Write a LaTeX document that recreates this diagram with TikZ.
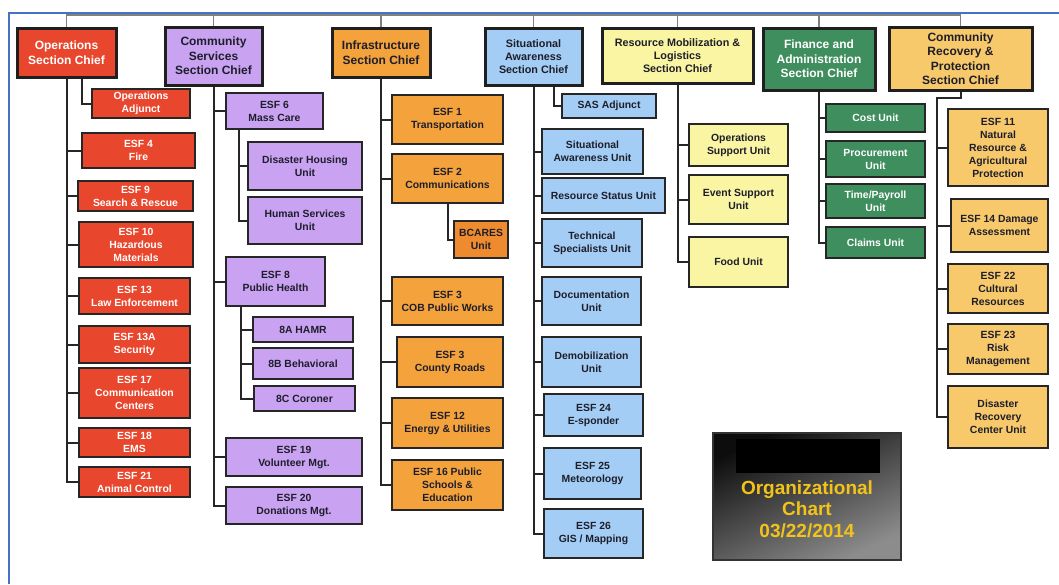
\documentclass[tikz,border=0pt]{standalone}
\usepackage{fontspec}
\setmainfont{Liberation Sans}
\usetikzlibrary{shadows,calc}

\definecolor{opsred}{HTML}{E8472E}
\definecolor{cslilac}{HTML}{C9A2F2}
\definecolor{infraorange}{HTML}{F4A23C}
\definecolor{bcaresorange}{HTML}{EE8B2E}
\definecolor{sablue}{HTML}{A3CDF5}
\definecolor{rmlyellow}{HTML}{FAF5A2}
\definecolor{fingreen}{HTML}{3F8E5E}
\definecolor{crpgold}{HTML}{F8C96B}
\definecolor{frameblue}{HTML}{4472C4}
\definecolor{inkdark}{HTML}{1E1E2A}
\definecolor{chartyellow}{HTML}{F2C31B}

\begin{document}
\begin{tikzpicture}[
  x=1pt, y=-1pt,
  font=\bfseries\fontsize{10.4}{13}\selectfont,
  chief/.style={
    rectangle,
    draw=black!88,
    line width=3pt,
    align=center,
    inner sep=2pt,
    text=inkdark,
    font=\bfseries\fontsize{12}{14.5}\selectfont
  },
  smallchief/.style={
    chief,
    font=\bfseries\fontsize{10.8}{13}\selectfont
  },
  unit/.style={
    rectangle,
    draw=black!85,
    line width=1.5pt,
    align=center,
    inner sep=2pt,
    text=inkdark,
    drop shadow={
      shadow xshift=1.2pt,
      shadow yshift=-1.2pt,
      opacity=0.35,
      fill=black
    }
  },
  opsunit/.style={unit, fill=opsred, text=white},
  csunit/.style={unit, fill=cslilac},
  infunit/.style={unit, fill=infraorange},
  saunit/.style={unit, fill=sablue},
  rmlunit/.style={unit, fill=rmlyellow},
  finunit/.style={unit, fill=fingreen, text=white},
  crpunit/.style={unit, fill=crpgold},
  link/.style={draw=black!85, line width=2pt},
  bus/.style={draw=black!50, line width=1.3pt}
]

\useasboundingbox (0,0) rectangle (1059,584);
\draw[frameblue, line width=2pt] (9,584) -- (9,13) -- (1059,13);

% section chiefs
\node[chief, fill=opsred, text=white, minimum width=99pt, minimum height=49pt] (ops) at (66.5,52.5) {Operations\\Section Chief};
\node[chief, fill=cslilac, minimum width=97pt, minimum height=58pt] (csc) at (213.5,56) {Community\\Services\\Section Chief};
\node[chief, fill=infraorange, minimum width=98pt, minimum height=49pt] (inf) at (381,52.5) {Infrastructure\\Section Chief};
\node[smallchief, fill=sablue, minimum width=97pt, minimum height=57pt] (sac) at (533.5,56.5) {Situational\\Awareness\\Section Chief};
\node[smallchief, fill=rmlyellow, minimum width=151pt, minimum height=55pt] (rml) at (677.5,55.5) {Resource Mobilization \&\\Logistics\\Section Chief};
\node[chief, fill=fingreen, text=white, minimum width=112pt, minimum height=62pt] (fin) at (819,59) {Finance and\\Administration\\Section Chief};
\node[chief, fill=crpgold, minimum width=143pt, minimum height=63pt] (crp) at (960.5,58.5) {Community\\Recovery \&\\Protection\\Section Chief};

\coordinate (bustop) at (0,15);
\draw[bus] (ops.north) -- (ops.north |- bustop) -- (crp.north |- bustop) -- (crp.north);
\draw[bus] (csc.north) -- (csc.north |- bustop);
\draw[bus] (inf.north) -- (inf.north |- bustop);
\draw[bus] (sac.north) -- (sac.north |- bustop);
\draw[bus] (rml.north) -- (rml.north |- bustop);
\draw[bus] (fin.north) -- (fin.north |- bustop);

% operations
\node[opsunit, minimum width=98pt, minimum height=29pt] (opsadj) at (141,103.5) {Operations\\Adjunct};
\node[opsunit, minimum width=113pt, minimum height=35pt] (esf4) at (138.5,150.5) {ESF 4\\Fire};
\node[opsunit, minimum width=115pt, minimum height=30pt] (esf9) at (135.5,196) {ESF 9\\Search \& Rescue};
\node[opsunit, minimum width=114pt, minimum height=45pt] (esf10) at (136,244.5) {ESF 10\\Hazardous\\Materials};
\node[opsunit, minimum width=111pt, minimum height=36pt] (esf13) at (134.5,296) {ESF 13\\Law Enforcement};
\node[opsunit, minimum width=111pt, minimum height=37pt] (esf13a) at (134.5,344.5) {ESF 13A\\Security};
\node[opsunit, minimum width=111pt, minimum height=50pt] (esf17) at (134.5,393) {ESF 17\\Communication\\Centers};
\node[opsunit, minimum width=111pt, minimum height=29pt] (esf18) at (134.5,442.5) {ESF 18\\EMS};
\node[opsunit, minimum width=111pt, minimum height=30pt] (esf21) at (134.5,482) {ESF 21\\Animal Control};

\draw[link] ([xshift=15pt]ops.south) |- (opsadj.west);
\draw[link] (ops.south) |- (esf4.west);
\draw[link] (ops.south) |- (esf9.west);
\draw[link] (ops.south) |- (esf10.west);
\draw[link] (ops.south) |- (esf13.west);
\draw[link] (ops.south) |- (esf13a.west);
\draw[link] (ops.south) |- (esf17.west);
\draw[link] (ops.south) |- (esf18.west);
\draw[link] (ops.south) |- (esf21.west);

% community services
\node[csunit, minimum width=97pt, minimum height=36pt] (esf6) at (274.5,111) {ESF 6\\Mass Care};
\node[csunit, minimum width=114pt, minimum height=48pt] (dhu) at (305,166) {Disaster Housing\\Unit};
\node[csunit, minimum width=114pt, minimum height=47pt] (hsu) at (305,220.5) {Human Services\\Unit};
\node[csunit, minimum width=99pt, minimum height=49pt] (esf8) at (275.5,281.5) {ESF 8\\Public Health};
\node[csunit, minimum width=100pt, minimum height=25pt] (hamr) at (303,329.5) {8A HAMR};
\node[csunit, minimum width=100pt, minimum height=31pt] (behav) at (303,363.5) {8B Behavioral};
\node[csunit, minimum width=101pt, minimum height=25pt] (coroner) at (304.5,398.5) {8C Coroner};
\node[csunit, minimum width=136pt, minimum height=38pt] (esf19) at (294,457) {ESF 19\\Volunteer Mgt.};
\node[csunit, minimum width=136pt, minimum height=37pt] (esf20) at (294,505.5) {ESF 20\\Donations Mgt.};

\draw[link] (csc.south) |- (esf6.west);
\draw[link] (csc.south) |- (esf8.west);
\draw[link] (csc.south) |- (esf19.west);
\draw[link] (csc.south) |- (esf20.west);
\draw[link] ([xshift=14pt]esf6.south west) |- (dhu.west);
\draw[link] ([xshift=14pt]esf6.south west) |- (hsu.west);
\draw[link] ([xshift=16pt]esf8.south west) |- (hamr.west);
\draw[link] ([xshift=16pt]esf8.south west) |- (behav.west);
\draw[link] ([xshift=16pt]esf8.south west) |- (coroner.west);

% infrastructure
\node[infunit, minimum width=111pt, minimum height=49pt] (esf1) at (447.5,119.5) {ESF 1\\Transportation};
\node[infunit, minimum width=111pt, minimum height=49pt] (esf2) at (447.5,178.5) {ESF 2\\Communications};
\node[infunit, fill=bcaresorange, minimum width=54pt, minimum height=37pt] (bcares) at (481,239.5) {BCARES\\Unit};
\node[infunit, minimum width=111pt, minimum height=48pt] (esf3cob) at (447.5,301) {ESF 3\\COB Public Works};
\node[infunit, minimum width=106pt, minimum height=50pt] (esf3cty) at (450,362) {ESF 3\\County Roads};
\node[infunit, minimum width=111pt, minimum height=50pt] (esf12) at (447.5,423) {ESF 12\\Energy \& Utilities};
\node[infunit, minimum width=111pt, minimum height=50pt] (esf16) at (447.5,485) {ESF 16 Public\\Schools \&\\Education};

\draw[link] (inf.south) |- (esf1.west);
\draw[link] (inf.south) |- (esf2.west);
\draw[link] (inf.south) |- (esf3cob.west);
\draw[link] (inf.south) |- (esf3cty.west);
\draw[link] (inf.south) |- (esf12.west);
\draw[link] (inf.south) |- (esf16.west);
\draw[link] (esf2.south) |- (bcares.west);

% situational awareness
\node[saunit, minimum width=94pt, minimum height=24pt] (sasadj) at (609,106) {SAS Adjunct};
\node[saunit, minimum width=101pt, minimum height=45pt] (sau) at (592.5,151.5) {Situational\\Awareness Unit};
\node[saunit, minimum width=123pt, minimum height=35pt] (rsu) at (603.5,195.5) {Resource Status Unit};
\node[saunit, minimum width=100pt, minimum height=48pt] (tsu) at (592,243) {Technical\\Specialists Unit};
\node[saunit, minimum width=99pt, minimum height=48pt] (docu) at (591.5,301) {Documentation\\Unit};
\node[saunit, minimum width=99pt, minimum height=50pt] (demob) at (591.5,362) {Demobilization\\Unit};
\node[saunit, minimum width=99pt, minimum height=42pt] (esf24) at (593.5,415) {ESF 24\\E-sponder};
\node[saunit, minimum width=97pt, minimum height=51pt] (esf25) at (592.5,473.5) {ESF 25\\Meteorology};
\node[saunit, minimum width=99pt, minimum height=49pt] (esf26) at (593.5,533.5) {ESF 26\\GIS / Mapping};

\draw[link] ([xshift=20pt]sac.south) |- (sasadj.west);
\draw[link] (sac.south) |- (sau.west);
\draw[link] (sac.south) |- (rsu.west);
\draw[link] (sac.south) |- (tsu.west);
\draw[link] (sac.south) |- (docu.west);
\draw[link] (sac.south) |- (demob.west);
\draw[link] (sac.south) |- (esf24.west);
\draw[link] (sac.south) |- (esf25.west);
\draw[link] (sac.south) |- (esf26.west);

% resource mobilization & logistics
\node[rmlunit, minimum width=99pt, minimum height=42pt] (osu) at (738.5,145) {Operations\\Support Unit};
\node[rmlunit, minimum width=99pt, minimum height=49pt] (esu) at (738.5,199.5) {Event Support\\Unit};
\node[rmlunit, minimum width=99pt, minimum height=50pt] (food) at (738.5,262) {Food Unit};

\draw[link] (rml.south) |- (osu.west);
\draw[link] (rml.south) |- (esu.west);
\draw[link] (rml.south) |- (food.west);

% finance & administration
\node[finunit, minimum width=99pt, minimum height=28pt] (cost) at (875.5,118) {Cost Unit};
\node[finunit, minimum width=99pt, minimum height=36pt] (procure) at (875.5,159) {Procurement\\Unit};
\node[finunit, minimum width=99pt, minimum height=34pt] (payroll) at (875.5,201) {Time/Payroll\\Unit};
\node[finunit, minimum width=99pt, minimum height=31pt] (claims) at (875.5,242.5) {Claims Unit};

\draw[link] (fin.south) |- (cost.west);
\draw[link] (fin.south) |- (procure.west);
\draw[link] (fin.south) |- (payroll.west);
\draw[link] (fin.south) |- (claims.west);

% community recovery & protection
\node[crpunit, minimum width=100pt, minimum height=77pt] (esf11) at (998,147.5) {ESF 11\\Natural\\Resource \&\\Agricultural\\Protection};
\node[crpunit, minimum width=97pt, minimum height=53pt] (esf14) at (999.5,225.5) {ESF 14 Damage\\Assessment};
\node[crpunit, minimum width=100pt, minimum height=49pt] (esf22) at (998,288.5) {ESF 22\\Cultural\\Resources};
\node[crpunit, minimum width=100pt, minimum height=50pt] (esf23) at (998,349) {ESF 23\\Risk\\Management};
\node[crpunit, minimum width=100pt, minimum height=62pt] (drcu) at (998,417) {Disaster\\Recovery\\Center Unit};

\coordinate (crpjog) at (937,98);
\draw[link] (crp.south) |- (crpjog) |- (esf11.west);
\draw[link] (crpjog) |- (esf14.west);
\draw[link] (crpjog) |- (esf22.west);
\draw[link] (crpjog) |- (esf23.west);
\draw[link] (crpjog) |- (drcu.west);

% chart stamp
\node[draw=black!80, line width=1.5pt, top color=black!95, bottom color=black!45,
  shading angle=25, minimum width=188pt, minimum height=127pt] (stamp) at (807,496.5) {};
\node[fill=black, inner sep=0pt, minimum width=144pt, minimum height=34pt] (redact) at (808,456) {};
\node[text=chartyellow, align=center, font=\bfseries\fontsize{19}{21.5}\selectfont] (title) at (807,509) {Organizational\\Chart\\03/22/2014};

\end{tikzpicture}
\end{document}
